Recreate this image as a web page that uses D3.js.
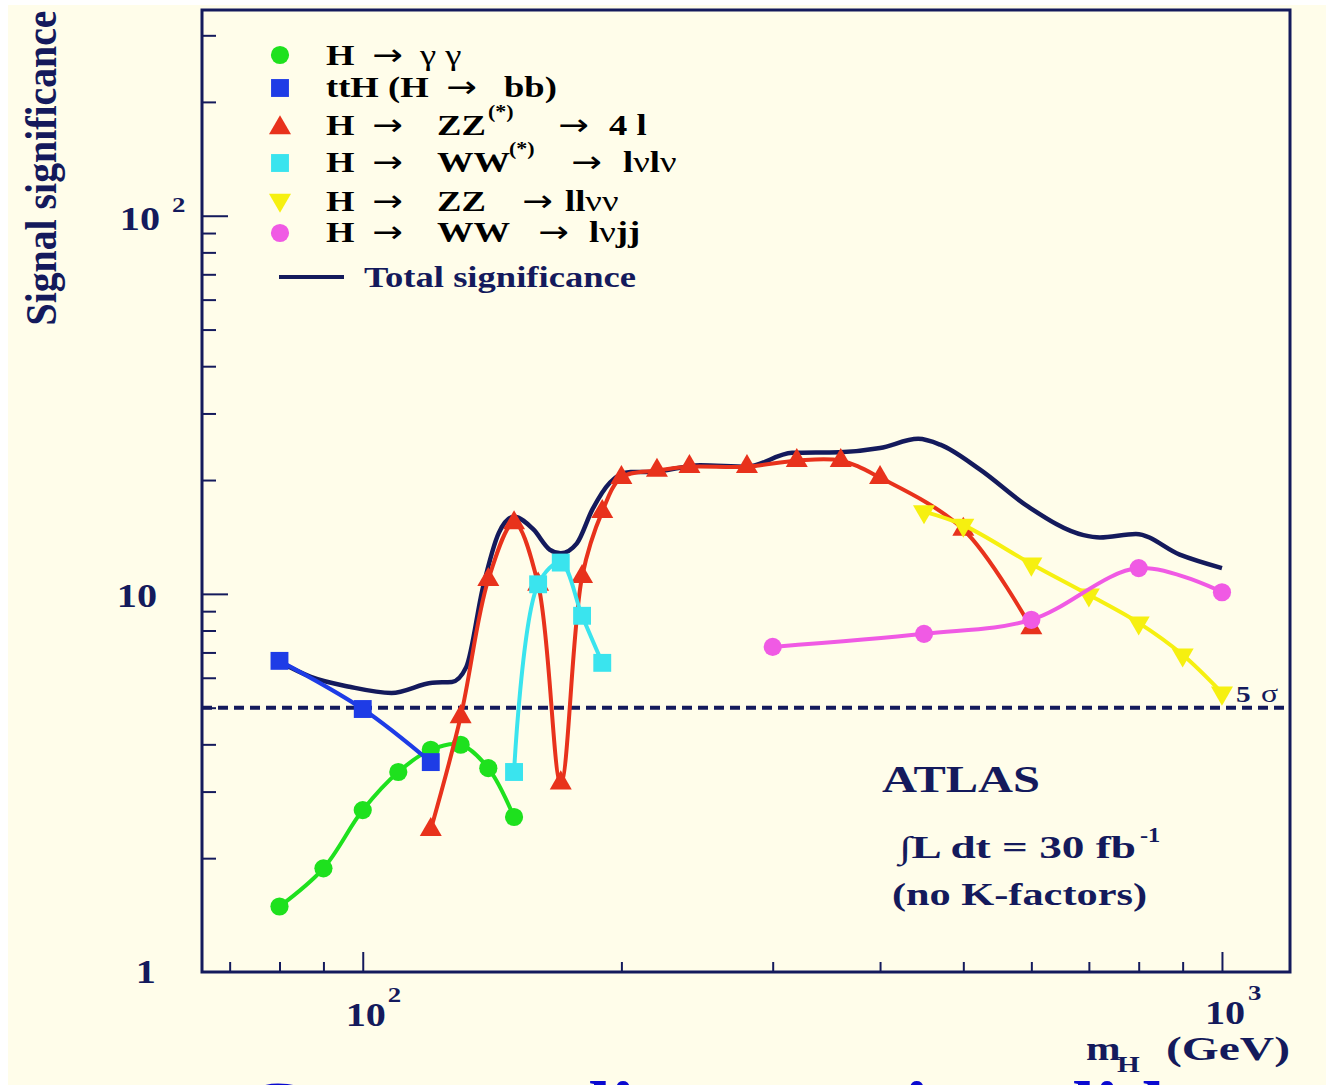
<!DOCTYPE html>
<html>
<head>
<meta charset="utf-8">
<script src="https://cdn.jsdelivr.net/npm/d3@7"></script>
<style>
  body { margin: 0; background: #ffffff; }
  svg { display: block; }
  text { font-family: "Liberation Serif", "Times New Roman", serif; }
</style>
</head>
<body>
<svg></svg>
<script>
// Chart values (mass in GeV, significance)
const massGG = [80, 90, 100, 110, 120, 130, 140, 150];
const sigGG = [1.49, 1.88, 2.68, 3.38, 3.87, 3.99, 3.46, 2.57];

const massTTH = [80, 100, 120];
const sigTTH = [6.65, 4.96, 3.59];

const massZZ4l = [120, 130, 140, 150, 160, 170, 180, 190, 200, 220, 240, 280, 320, 360, 400, 500, 600];
const sigZZ4l = [2.38, 4.73, 10.9, 15.4, 10.6, 3.16, 11.1, 16.5, 20.3, 21.2, 21.7, 21.7, 22.5, 22.5, 20.3, 14.8, 8.13];

const massWWlvlv = [150, 160, 170, 180, 190];
const sigWWlvlv = [3.38, 10.6, 12.1, 8.75, 6.57];

const massZZllvv = [450, 500, 600, 700, 800, 900, 1000];
const sigZZllvv = [16.5, 15.2, 12.0, 9.94, 8.38, 6.9, 5.47];

const massWWlvjj = [300, 450, 600, 800, 1000];
const sigWWlvjj = [7.24, 7.84, 8.54, 11.7, 10.1];

const massTotal = [80, 87, 96.5, 108, 120.5, 127, 132, 138, 144, 150, 158, 165, 170, 177.5, 185, 194, 205, 216, 247, 280, 316, 359, 400, 443, 470, 523, 595, 690, 721, 794, 893, 1000];
const sigTotal = [6.61, 6.03, 5.68, 5.47, 5.82, 5.85, 6.41, 10.4, 14.5, 16.0, 14.8, 13.1, 12.8, 13.6, 16.7, 19.7, 21.0, 21.0, 21.9, 21.7, 23.6, 23.7, 24.3, 25.7, 24.8, 21.3, 17.0, 14.3, 14.1, 14.4, 12.7, 11.7];

const fiveSigma = 5;

// Tick values
const majorX = [100, 1000];
const minorX = [70, 80, 90, 200, 300, 400, 500, 600, 700, 800, 900];
const majorY = [10, 100];
const minorY = [2, 3, 4, 5, 6, 7, 8, 9, 20, 30, 40, 50, 60, 70, 80, 90, 200, 300];

// Set up the SVG dimensions
const svgWidth = 1326, svgHeight = 1085;
const plot = { left: 202, right: 1290, top: 10, bottom: 972 };
const SX = 1.22; // the original picture is stretched horizontally
const navy = "#141a5c";

const svg = d3.select("svg")
    .attr("width", svgWidth)
    .attr("height", svgHeight);

// Cream slide background
svg.append("rect")
    .attr("x", 8).attr("y", 5)
    .attr("width", svgWidth - 8).attr("height", svgHeight - 5)
    .attr("fill", "#fffdea");

// Log scales
const xScale = d3.scaleLog().domain([65, 1200]).range([plot.left, plot.right]);
const yScale = d3.scaleLog().domain([1, 350]).range([plot.bottom, plot.top]);

// Ticks (pointing inward)
function ticks(axis, values, size, transform) {
    svg.append("g")
        .attr("transform", transform)
        .call(axis.tickValues(values).tickSize(-size).tickFormat(""))
        .call(g => g.select(".domain").remove())
        .selectAll("line")
        .attr("stroke", navy)
        .attr("stroke-width", 2);
}
ticks(d3.axisBottom(xScale), minorX, 10, `translate(0,${plot.bottom})`);
ticks(d3.axisBottom(xScale), majorX, 20, `translate(0,${plot.bottom})`);
ticks(d3.axisLeft(yScale), minorY, 14, `translate(${plot.left},0)`);
ticks(d3.axisLeft(yScale), majorY, 26, `translate(${plot.left},0)`);

// 5 sigma dashed line
svg.append("line")
    .attr("x1", plot.left).attr("x2", plot.right)
    .attr("y1", yScale(fiveSigma)).attr("y2", yScale(fiveSigma))
    .attr("stroke", navy)
    .attr("stroke-width", 4)
    .attr("stroke-dasharray", "10,6");

// Series
const zip = (a, b) => a.map((m, i) => [m, b[i]]);
const series = [
    { data: zip(massGG, sigGG), color: "#1ee11e", marker: "circle" },
    { data: zip(massTTH, sigTTH), color: "#1e3ce6", marker: "square" },
    { data: zip(massZZ4l, sigZZ4l), color: "#e8321c", marker: "up" },
    { data: zip(massWWlvlv, sigWWlvlv), color: "#3ae4ee", marker: "square" },
    { data: zip(massZZllvv, sigZZllvv), color: "#f6f010", marker: "down" },
    { data: zip(massWWlvjj, sigWWlvjj), color: "#f05ae4", marker: "circle" }
];

const line = d3.line()
    .x(d => xScale(d[0]))
    .y(d => yScale(d[1]))
    .curve(d3.curveCatmullRom.alpha(0.5));

// Total significance first (drawn under the channels)
svg.append("path")
    .datum(zip(massTotal, sigTotal))
    .attr("d", line.curve(d3.curveMonotoneX))
    .attr("fill", "none")
    .attr("stroke", navy)
    .attr("stroke-width", 4.5);
line.curve(d3.curveCatmullRom.alpha(0.5));

function symbolPath(marker) {
    if (marker === "circle") return d3.symbol(d3.symbolCircle, 260)();
    if (marker === "square") return d3.symbol(d3.symbolSquare, 320)();
    return d3.symbol(d3.symbolTriangle, 210)();
}
function drawMarker(g, marker, x, y, color) {
    g.append("path")
        .attr("d", symbolPath(marker))
        .attr("transform", `translate(${x},${y})` + (marker === "down" ? " rotate(180)" : ""))
        .attr("fill", color);
}

series.forEach(s => {
    svg.append("path")
        .datum(s.data)
        .attr("d", line)
        .attr("fill", "none")
        .attr("stroke", s.color)
        .attr("stroke-width", 4);
    const g = svg.append("g");
    s.data.forEach(d => drawMarker(g, s.marker, xScale(d[0]), yScale(d[1]), s.color));
});

// Frame
svg.append("rect")
    .attr("x", plot.left).attr("y", plot.top)
    .attr("width", plot.right - plot.left).attr("height", plot.bottom - plot.top)
    .attr("fill", "none")
    .attr("stroke", navy)
    .attr("stroke-width", 3);

// Text helper: parts may be a string or a list of [text, weight]
function label(x, y, parts, size, opts = {}) {
    const t = svg.append("text")
        .attr("transform", `translate(${x},${y}) scale(${SX},1)`)
        .attr("font-size", size)
        .attr("font-weight", opts.weight || "bold")
        .attr("fill", opts.fill || navy)
        .attr("text-anchor", opts.anchor || "start");
    if (opts.family) t.style("font-family", opts.family);
    if (typeof parts === "string") t.text(parts);
    else parts.forEach(p => t.append("tspan").attr("font-weight", p[1]).text(p[0]));
    if (opts.len) t.attr("textLength", opts.len / SX).attr("lengthAdjust", "spacingAndGlyphs");
    return t;
}
const arrow = (x, y) => label(x, y, "→", 30, { weight: "normal", fill: "#000", family: "DejaVu Sans" });

// Legend
const legendRows = [
    { y: 65, my: 55, s: 0 },
    { y: 97, my: 88, s: 1 },
    { y: 135, my: 128, s: 2 },
    { y: 172, my: 163, s: 3 },
    { y: 211, my: 200, s: 4 },
    { y: 242, my: 233, s: 5 }
];
const legendG = svg.append("g");
legendRows.forEach(r => drawMarker(legendG, series[r.s].marker, 280, r.my, series[r.s].color));

const blk = { fill: "#000" };
let r = legendRows;
label(326, r[0].y, "H", 30, blk); arrow(372, r[0].y);
label(420, r[0].y, "γ γ", 30, { fill: "#000", weight: "normal" });

label(326, r[1].y, "ttH (H", 30, blk); arrow(446, r[1].y); label(504, r[1].y, "bb)", 30, blk);

label(326, r[2].y, "H", 30, blk); arrow(372, r[2].y); label(437, r[2].y, "ZZ", 30, blk);
label(488, r[2].y - 17, "(*)", 18, blk); arrow(558, r[2].y); label(609, r[2].y, "4 l", 30, blk);

label(326, r[3].y, "H", 30, blk); arrow(372, r[3].y); label(437, r[3].y, "WW", 30, blk);
label(509, r[3].y - 17, "(*)", 18, blk); arrow(571, r[3].y);
label(623, r[3].y, [["l", "bold"], ["ν", "normal"], ["l", "bold"], ["ν", "normal"]], 30, blk);

label(326, r[4].y, "H", 30, blk); arrow(372, r[4].y); label(437, r[4].y, "ZZ", 30, blk);
arrow(522, r[4].y);
label(565, r[4].y, [["ll", "bold"], ["νν", "normal"]], 30, blk);

label(326, r[5].y, "H", 30, blk); arrow(372, r[5].y); label(437, r[5].y, "WW", 30, blk);
arrow(538, r[5].y);
label(589, r[5].y, [["l", "bold"], ["ν", "normal"], ["jj", "bold"]], 30, blk);

svg.append("line")
    .attr("x1", 279).attr("x2", 344).attr("y1", 277).attr("y2", 277)
    .attr("stroke", navy).attr("stroke-width", 4);
label(364, 287, "Total significance", 30);

// Axis labels
label(160, 230, "10", 33, { anchor: "end" });
label(172, 212, "2", 22);
label(157, 607, "10", 33, { anchor: "end" });
label(156, 983, "1", 33, { anchor: "end" });

label(xScale(100) - 17, 1026, "10", 33);
label(xScale(100) + 25, 1002, "2", 22);
label(xScale(1000) - 17, 1024, "10", 33);
label(xScale(1000) + 26, 1000, "3", 22);

label(1086, 1060, "m", 34);
label(1117, 1072, "H", 24);
label(1166, 1060, "(GeV)", 34, { len: 124 });

svg.append("text")
    .attr("transform", "translate(56,168) rotate(-90) scale(1,1.22)")
    .attr("text-anchor", "middle")
    .attr("font-size", 36)
    .attr("font-weight", "bold")
    .attr("fill", navy)
    .attr("textLength", 315)
    .attr("lengthAdjust", "spacingAndGlyphs")
    .text("Signal significance");

// 5 sigma label
label(1236, 702, "5", 24);
label(1261, 702, "σ", 26, { weight: "normal" });

// ATLAS annotation
label(882, 792, "ATLAS", 38, { len: 158 });
label(899, 858, "∫L dt = 30 fb", 31, { len: 237 });
label(1140, 842, "-1", 20);
label(892, 905, "(no K-factors)", 31, { len: 255 });

// Slide title cut off at the bottom
label(245, 1128, "Compact list", 68, { fill: "#0a0ad0" });
label(905, 1128, "in", 68, { fill: "#0a0ad0" });
label(1040, 1128, "slides", 68, { fill: "#0a0ad0" });
</script>
</body>
</html>
